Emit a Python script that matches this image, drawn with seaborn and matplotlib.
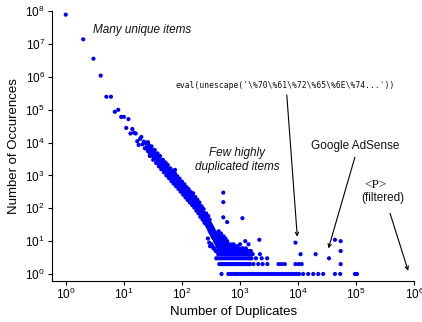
import matplotlib
matplotlib.use("Agg")
import matplotlib.pyplot as plt
from matplotlib.ticker import NullLocator
import pandas as pd
import seaborn as sns

# ---------------- data ----------------
head_dup = [1, 2, 3, 4, 5, 6, 7, 8, 9, 10, 11, 12, 13, 14, 15, 16, 17, 18, 19]
head_occ = [79000000, 14000000, 3600000, 1100000, 250000, 250000, 87000, 100000,
            61000, 61000, 28000, 52000, 19000, 26000, 20000, 19000, 11000, 8500, 13000]

mid_dup = list(range(20, 100))
mid_occ = [14900, 8900, 10700, 6700, 9500, 7500, 6100, 8400, 4700, 5900,
           6200, 4800, 3900, 4400, 3800, 3300, 4600, 3600, 2570, 2900,
           3200, 2600, 2360, 2100, 2900, 2500, 1670, 1850, 2070, 1700,
           2280, 1900, 1550, 1340, 1700, 1300, 1580, 1250, 1500, 980,
           1150, 1350, 1360, 1000, 1200, 1050, 900, 1100, 850, 1000,
           780, 1160, 900, 700, 640, 860, 700, 800, 660, 760,
           830, 600, 720, 620, 540, 660, 520, 600, 540, 480,
           600, 500, 670, 440, 560, 460, 385, 500, 420, 470]

upper_dup = [26, 30, 34, 38, 42, 47, 52, 57, 63, 69, 76, 83, 91, 100, 110, 120,
             131, 143, 156, 170, 185, 200, 218, 236]
upper_occ = [10300, 7700, 6000, 4700, 3900, 3000, 2500, 2100, 1650, 1400, 1150, 950,
             800, 650, 540, 440, 380, 310, 285, 220, 180, 150, 115, 95]

upmid_dup = [24, 28, 32, 36, 40, 45, 50, 55, 60, 66, 72, 79, 87, 95, 105, 115,
             125, 137, 150, 163, 177, 192, 208, 227, 245]
upmid_occ = [10000, 7300, 5500, 4400, 3500, 2750, 2250, 1850, 1500, 1250, 1050, 860,
             720, 590, 490, 400, 330, 280, 240, 205, 165, 135, 110, 85, 68]

lowmid_dup = [26, 30, 34, 38, 42, 47, 52, 57, 63, 69, 76, 83, 91, 100, 110, 120,
              131, 143, 156, 170, 185, 200, 218, 236]
lowmid_occ = [5500, 4100, 3200, 2500, 2070, 1640, 1340, 1100, 900, 750, 610, 510,
              425, 350, 290, 240, 200, 168, 150, 120, 96, 80, 62, 50]

lower_dup = [28, 32, 36, 40, 44, 49, 54, 60, 66, 72, 79, 87, 95, 105, 115, 125,
             137, 150, 163, 177, 192, 208, 227, 245]
lower_occ = [3900, 3000, 2400, 1900, 1550, 1250, 1000, 820, 670, 560, 470, 390,
             320, 260, 215, 180, 150, 125, 105, 85, 70, 55, 45, 36]

band1_dup = [100, 101, 102, 103, 104, 105, 106, 107, 108, 109, 110, 111, 112, 113, 114,
             115, 116, 117, 118, 119, 120, 122, 124, 126, 128, 130, 132, 134, 136, 138,
             140, 142, 144, 146, 148, 150]
band1_occ = [520, 400, 470, 360, 430, 390, 340, 450, 370, 320, 400, 350, 300, 380, 330,
             290, 360, 310, 270, 340, 300, 260, 320, 240, 290, 250, 220, 270, 230, 200,
             250, 210, 185, 230, 195, 170]

band2_dup = [152, 154, 156, 158, 160, 162, 164, 166, 168, 170, 172, 174, 176, 178, 180,
             182, 184, 186, 188, 190, 193, 196, 199, 202, 205, 208, 211, 214, 217, 220,
             223, 226, 229, 232, 235, 238, 241, 244, 247, 250]
band2_occ = [215, 180, 150, 200, 165, 140, 185, 155, 125, 170, 140, 115, 155, 125, 105,
             140, 112, 95, 130, 100, 85, 120, 92, 78, 105, 82, 68, 95, 72, 60,
             85, 64, 52, 76, 56, 46, 68, 50, 40, 60]

band3_dup = [254, 258, 262, 266, 270, 274, 278, 282, 286, 290, 294, 298, 302, 306, 310,
             314, 318, 322, 326, 330, 334, 338, 342, 346, 350, 355, 360, 365, 370, 375,
             380, 385, 390, 395, 400, 280, 295, 305, 320, 335, 350, 365, 380, 395,
             260, 265, 285, 300]
band3_occ = [45, 34, 55, 40, 30, 48, 36, 26, 42, 31, 22, 37, 27, 19, 33,
             24, 17, 29, 21, 15, 26, 18, 13, 23, 16, 12, 20, 14, 10, 18,
             12, 9, 15, 11, 8, 12, 9, 7, 8, 7, 6, 6, 5, 5,
             70, 65, 58, 45]

band4_dup = [405, 410, 415, 420, 425, 430, 435, 440, 445, 450, 456, 462, 468, 474, 480,
             486, 492, 498, 505, 512, 519, 526, 533, 540, 548, 556, 564, 572, 580, 588,
             596, 605, 614, 623, 632, 641, 650, 660, 670, 680, 690, 700,
             420, 460, 500, 530, 430, 470, 520, 560, 600]
band4_occ = [14, 10, 7, 12, 9, 6, 16, 8, 11, 5, 9, 13, 7, 10, 6,
             8, 12, 5, 9, 7, 11, 6, 8, 5, 10, 7, 4, 6, 9, 5,
             7, 4, 8, 6, 5, 7, 4, 6, 5, 8, 4, 6,
             4, 4, 4, 4, 20, 17, 14, 12, 10]

band5_dup = [712, 724, 736, 748, 760, 772, 785, 798, 811, 825, 840, 855, 870, 885, 900,
             916, 932, 948, 965, 982, 1000, 1020, 1040, 1060, 1080, 1100, 1125, 1150, 1175, 1200,
             1230, 1260, 1290, 1320, 1360, 1400, 1440, 1480, 1530, 1580, 1650]
band5_occ = [5, 7, 4, 6, 5, 8, 4, 6, 5, 7, 4, 5, 6, 4, 7,
             5, 4, 6, 5, 4, 8, 5, 4, 6, 5, 4, 6, 5, 4, 5,
             4, 6, 4, 5, 4, 5, 4, 4, 5, 4, 4]

row3_dup = [390, 420, 455, 490, 530, 575, 620, 670, 725, 785, 850, 920, 1000, 1080, 1170,
            1270, 1380, 1480, 1570, 1880, 2360, 2930]
row2_dup = [440, 470, 505, 540, 580, 620, 665, 715, 765, 820, 880, 945, 1010, 1085, 1160,
            1245, 1335, 1430, 1480, 1700, 2060, 2450, 2950, 4600, 5200, 5900, 9000, 10200, 11500]
row1_dup = [480, 630, 695, 770, 850, 940, 1040, 1150, 1270, 1400, 1550, 1710, 1890, 2090,
            2310, 2550, 2820, 3120, 3450, 3810, 4210, 4650, 5140, 5680, 6280, 6940, 7670,
            8480, 9370, 10400, 12200, 14900, 18200, 22200, 27000, 43000, 53000, 95000, 103000]

outlier_dup = [76, 515, 515, 515, 600, 1100, 1230, 1400, 2150, 2200,
               9000, 11000, 20000, 34000, 43000, 54000, 54000, 54000]
outlier_occ = [1480, 300, 154, 53, 38, 50, 10, 8, 11, 4,
               9, 4, 4, 3, 11, 10, 5, 2]

x_ticks = [1, 10, 100, 1000, 10000, 100000, 1000000]
y_ticks = [1, 10, 100, 1000, 10000, 100000, 1000000, 10000000, 100000000]

# ---------------- assemble ----------------
dup = (head_dup + mid_dup + upper_dup + upmid_dup + lowmid_dup + lower_dup
       + band1_dup + band2_dup + band3_dup + band4_dup + band5_dup
       + row3_dup + row2_dup + row1_dup + outlier_dup)
occ = (head_occ + mid_occ + upper_occ + upmid_occ + lowmid_occ + lower_occ
       + band1_occ + band2_occ + band3_occ + band4_occ + band5_occ
       + [3] * len(row3_dup) + [2] * len(row2_dup) + [1] * len(row1_dup) + outlier_occ)
df = pd.DataFrame({"dup": dup, "occ": occ})

sns.set_theme(style="ticks")
plt.rcParams["font.family"] = ["Liberation Sans", "DejaVu Sans"]
plt.rcParams["mathtext.fontset"] = "custom"
plt.rcParams["mathtext.rm"] = "Liberation Sans"
plt.rcParams["mathtext.it"] = "Liberation Sans:italic"
plt.rcParams["mathtext.default"] = "regular"

fig = plt.figure(figsize=(4.22, 3.22), dpi=100)
ax = fig.add_axes([0.1232, 0.1273, 0.8586, 0.8376])

sns.scatterplot(data=df, x="dup", y="occ", color="#0000ff", s=9, linewidth=0,
                edgecolor="none", ax=ax, legend=False, zorder=3)

ax.set_xscale("log")
ax.set_yscale("log")
ax.set_xticks(x_ticks)
ax.set_yticks(y_ticks)
ax.xaxis.set_minor_locator(NullLocator())
ax.yaxis.set_minor_locator(NullLocator())
ax.set_xlim(0.58, 1e6)
ax.set_ylim(0.61, 1e8)

for s in ["top", "right"]:
    ax.spines[s].set_visible(False)
for s in ["left", "bottom"]:
    ax.spines[s].set_color("black")
    ax.spines[s].set_linewidth(0.8)

ax.tick_params(axis="both", which="major", direction="out", length=2.6, width=0.8,
               color="black", labelcolor="black", labelsize=8.5)
ax.tick_params(axis="x", pad=1.5)
ax.tick_params(axis="y", pad=2.5)

ax.set_xlabel("Number of Duplicates", fontsize=9.5, color="black", labelpad=3)
ax.set_ylabel("Number of Occurences", fontsize=9.5, color="black", labelpad=4)

# ---------------- annotations ----------------
ax.text(0.112, 0.931, "Many unique items", transform=ax.transAxes, fontsize=8.5,
        style="italic", ha="left", va="center", color="#111111")
ax.text(0.511, 0.449, "Few highly\nduplicated items", transform=ax.transAxes,
        fontsize=8.5, style="italic", ha="center", va="center", color="#111111",
        linespacing=1.15)
ax.text(0.342, 0.724, "eval(unescape('\\%70\\%61\\%72\\%65\\%6E\\%74...'))",
        transform=ax.transAxes, fontsize=5.8, family="DejaVu Sans Mono",
        ha="left", va="center", color="#111111")
ax.text(0.716, 0.501, "Google AdSense", transform=ax.transAxes, fontsize=8.5,
        ha="left", va="center", color="#111111")
ax.text(0.892, 0.356, "<P>", transform=ax.transAxes, fontsize=9.5,
        family="Liberation Serif", ha="center", va="center", color="#111111")
ax.text(0.912, 0.307, "(filtered)", transform=ax.transAxes, fontsize=8.5,
        ha="center", va="center", color="#111111")

arrow_kw = dict(arrowstyle="->", lw=0.8, color="black", mutation_scale=6,
                shrinkA=0, shrinkB=0)
ax.annotate("", xy=(0.677, 0.164), xytext=(0.648, 0.690),
            xycoords="axes fraction", textcoords="axes fraction", arrowprops=arrow_kw)
ax.annotate("", xy=(0.763, 0.121), xytext=(0.836, 0.459),
            xycoords="axes fraction", textcoords="axes fraction", arrowprops=arrow_kw)
ax.annotate("", xy=(0.983, 0.038), xytext=(0.933, 0.251),
            xycoords="axes fraction", textcoords="axes fraction", arrowprops=arrow_kw,
            annotation_clip=False)

fig.savefig("out.png", dpi=100)
